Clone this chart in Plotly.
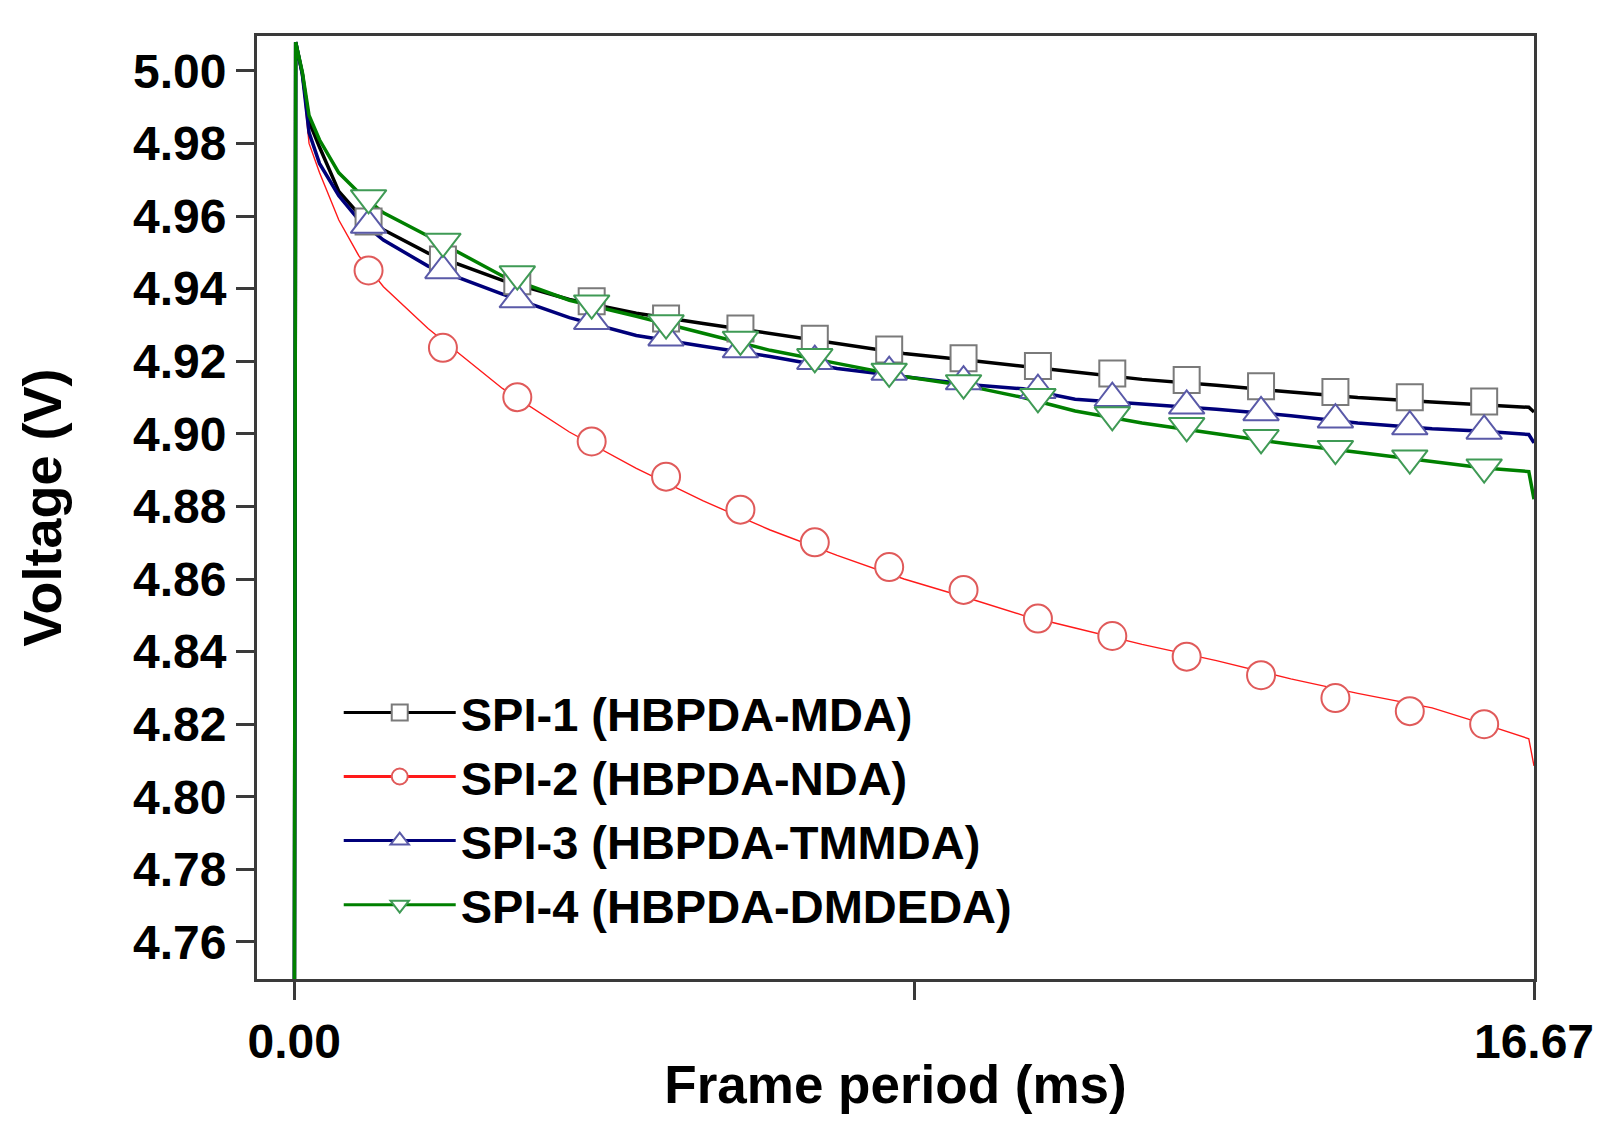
import plotly.graph_objects as go

# frame period (ms) sample points
t_line = [0.0, 0.02, 0.11, 0.2, 0.34, 0.6, 0.87, 1.2, 1.8, 2.8, 3.7, 4.6, 5.5, 6.4, 7.3, 8.2,
          9.1, 9.8, 10.5, 11.4, 12.4, 13.4, 14.3, 15.3, 16.0, 16.6, 16.67]

spi1_line = [4.70, 5.0079, 4.9992, 4.9860, 4.9790, 4.9668, 4.9605, 4.9562, 4.9498, 4.9423, 4.9370,
             4.9332, 4.9304, 4.9277, 4.9249, 4.9221, 4.9202, 4.9187, 4.9170, 4.9150, 4.9134,
             4.9115, 4.9100, 4.9088, 4.9081, 4.9073, 4.9060]
spi2_line = [4.70, 5.0079, 4.9985, 4.9800, 4.9720, 4.9589, 4.9490, 4.9405, 4.9290, 4.9125, 4.9005,
             4.8905, 4.8815, 4.8735, 4.8665, 4.8600, 4.8545, 4.8500, 4.8465, 4.8420, 4.8375,
             4.8325, 4.8285, 4.8245, 4.8200, 4.8160, 4.8085]
spi3_line = [4.70, 5.0079, 4.9990, 4.9830, 4.9745, 4.9656, 4.9589, 4.9534, 4.9462, 4.9385, 4.9320,
             4.9271, 4.9241, 4.9213, 4.9180, 4.9158, 4.9135, 4.9124, 4.9095, 4.9082, 4.9068,
             4.9050, 4.9030, 4.9014, 4.9007, 4.8998, 4.8975]
spi4_line = [4.70, 5.0079, 4.9996, 4.9877, 4.9810, 4.9719, 4.9664, 4.9609, 4.9545, 4.9435, 4.9368,
             4.9324, 4.9277, 4.9230, 4.9194, 4.9158, 4.9130, 4.9100, 4.9063, 4.9030, 4.9000,
             4.8971, 4.8949, 4.8925, 4.8906, 4.8896, 4.8820]

# marker positions (every 1 ms)
t_mark = [1, 2, 3, 4, 5, 6, 7, 8, 9, 10, 11, 12, 13, 14, 15, 16]
spi1_mark = [4.9585, 4.9480, 4.9420, 4.9365, 4.9318, 4.9290, 4.9262, 4.9232, 4.9208, 4.9187,
             4.9166, 4.9148, 4.9131, 4.9115, 4.9101, 4.9089]
spi2_mark = [4.9450, 4.9237, 4.9101, 4.8979, 4.8882, 4.8791, 4.8701, 4.8633, 4.8570, 4.8491,
             4.8443, 4.8386, 4.8335, 4.8272, 4.8236, 4.8200]
spi3_mark = [4.9575, 4.9450, 4.9370, 4.9310, 4.9265, 4.9232, 4.9200, 4.9170, 4.9144, 4.9120,
             4.9098, 4.9077, 4.9059, 4.9039, 4.9020, 4.9008]
spi4_mark = [4.9650, 4.9530, 4.9440, 4.9360, 4.9305, 4.9260, 4.9212, 4.9172, 4.9140, 4.9102,
             4.9052, 4.9022, 4.8989, 4.8959, 4.8933, 4.8908]

names = ["SPI-1 (HBPDA-MDA)", "SPI-2 (HBPDA-NDA)", "SPI-3 (HBPDA-TMMDA)", "SPI-4 (HBPDA-DMDEDA)"]
x_tickvals = [0, 8.335, 16.67]
x_ticktext = ["0.00", "", "16.67"]
y_tickvals = [4.76, 4.78, 4.80, 4.82, 4.84, 4.86, 4.88, 4.90, 4.92, 4.94, 4.96, 4.98, 5.00]

line_colors = ["#000000", "#ff1a1a", "#00007a", "#008000"]
edge_colors = ["#7a7a7a", "#e05a5a", "#5a5aa8", "#3f9a55"]
symbols = ["square", "circle", "triangle-up", "triangle-down"]
msizes = [26, 28, 31, 31]
lwidths = [3.5, 1.4, 3.5, 3.5]

lines = [spi1_line, spi2_line, spi3_line, spi4_line]
marks = [spi1_mark, spi2_mark, spi3_mark, spi4_mark]

fig = go.Figure()
for i in range(4):
    fig.add_trace(go.Scatter(x=t_line, y=lines[i], mode="lines", showlegend=False,
                             line=dict(color=line_colors[i], width=lwidths[i])))
for i in range(4):
    fig.add_trace(go.Scatter(x=t_mark, y=marks[i], mode="markers", showlegend=False,
                             marker=dict(symbol=symbols[i], size=msizes[i], color="white",
                                         line=dict(color=edge_colors[i], width=2))))
# legend entries
for i in range(4):
    fig.add_trace(go.Scatter(x=[None], y=[None], mode="lines+markers", name=names[i],
                             line=dict(color=line_colors[i], width=3),
                             marker=dict(symbol=symbols[i], size=16, color="white",
                                         line=dict(color=edge_colors[i], width=2))))

font_main = dict(family="Liberation Sans, Arial, sans-serif", color="black", weight="bold")

fig.update_layout(
    width=1611, height=1130,
    margin=dict(l=249, r=85, t=28, b=159),
    plot_bgcolor="white", paper_bgcolor="white",
    font=font_main,
    legend=dict(x=0.064, y=0.322, xanchor="left", yanchor="top",
                font=dict(size=47, **font_main), bgcolor="rgba(0,0,0,0)",
                itemwidth=112, tracegroupgap=0),
)
fig.update_xaxes(
    range=[-0.5, 16.67], tickvals=x_tickvals, ticktext=x_ticktext,
    showgrid=False, zeroline=False,
    showline=True, linecolor="#3a3a3a", linewidth=3, mirror=True,
    ticks="outside", ticklen=18, tickwidth=3, tickcolor="#3a3a3a",
    tickfont=dict(size=48, **font_main),
    title=dict(text="Frame period (ms)", font=dict(size=53, **font_main), standoff=0),
)
fig.update_yaxes(
    range=[4.7498, 5.0096], tickvals=y_tickvals, tickformat=".2f",
    showgrid=False, zeroline=False,
    showline=True, linecolor="#3a3a3a", linewidth=3, mirror=True,
    ticks="outside", ticklen=18, tickwidth=3, tickcolor="#3a3a3a",
    tickfont=dict(size=48, **font_main),
    title=dict(text="Voltage (V)", font=dict(size=54, **font_main), standoff=55),
)

fig.write_html("out.html")
